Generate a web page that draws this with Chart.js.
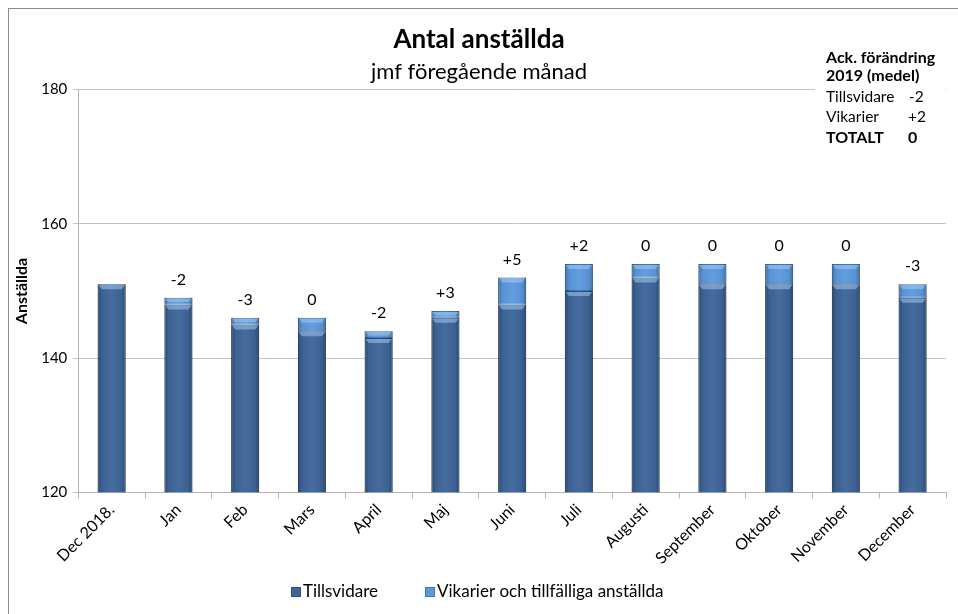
<!DOCTYPE html>
<html>
<head>
<meta charset="utf-8">
<script src="https://cdn.jsdelivr.net/npm/chart.js@4"></script>
<style>
  html, body { margin: 0; background: #fff; }
  #ruta { width: 958px; height: 614px; position: relative; }
</style>
</head>
<body>
<div id="ruta"><canvas id="diagram"></canvas></div>
<script>
var manader = ['Dec 2018.', 'Jan', 'Feb', 'Mars', 'April', 'Maj', 'Juni', 'Juli',
  'Augusti', 'September', 'Oktober', 'November', 'December']
var tillsvidare = [151, 148, 145, 144, 143, 146, 148, 150, 152, 151, 151, 151, 149]
var vikarier = [0, 1, 1, 2, 1, 1, 4, 4, 2, 3, 3, 3, 2]
var forandring = ['', '-2', '-3', '0', '-2', '+3', '+5', '+2', '0', '0', '0', '0', '-3']
var yMin = 120
var yMax = 180
var ySteg = 20

var typsnitt = 'Lato, "Open Sans", sans-serif'

// ram runt hela diagrammet
var ramPlugin = {
  id: 'ram',
  beforeDraw: function (chart) {
    var ctx = chart.ctx
    ctx.save()
    ctx.strokeStyle = '#8c8c8c'
    ctx.lineWidth = 1
    ctx.strokeRect(8.5, 8.5, chart.width + 10, chart.height + 10)
    ctx.restore()
  }
}

// lite skuggning och fasad kant på staplarna (som i Excel)
var fasPlugin = {
  id: 'fas',
  afterDatasetsDraw: function (chart) {
    var ctx = chart.ctx
    var botten = chart.chartArea.bottom
    ctx.save()
    chart.data.datasets.forEach(function (ds, d) {
      chart.getDatasetMeta(d).data.forEach(function (bar) {
        var p = bar.getProps(['x', 'y', 'base', 'width'], true)
        var bas = Math.min(p.base, botten)
        var h = bas - p.y
        if (h < 1) return
        var v = p.x - p.width / 2
        var g = ctx.createLinearGradient(v, 0, v + p.width, 0)
        g.addColorStop(0, 'rgba(0,0,0,0.28)')
        g.addColorStop(0.15, 'rgba(0,0,0,0.05)')
        g.addColorStop(0.5, 'rgba(255,255,255,0.04)')
        g.addColorStop(0.85, 'rgba(0,0,0,0.05)')
        g.addColorStop(1, 'rgba(0,0,0,0.3)')
        ctx.fillStyle = g
        ctx.fillRect(v, p.y, p.width, h)
        // ljus fas upptill
        var fh = Math.min(4, h / 2)
        ctx.fillStyle = 'rgba(160,200,245,0.55)'
        ctx.beginPath()
        ctx.moveTo(v + 1, p.y + 1)
        ctx.lineTo(v + p.width - 1, p.y + 1)
        ctx.lineTo(v + p.width - 4, p.y + 1 + fh)
        ctx.lineTo(v + 4, p.y + 1 + fh)
        ctx.closePath()
        ctx.fill()
      })
    })
    ctx.restore()
  }
}

// förändring jmf föregående månad, ovanför staplarna
var etikettPlugin = {
  id: 'etiketter',
  afterDatasetsDraw: function (chart) {
    var ctx = chart.ctx
    var meta = chart.getDatasetMeta(1)
    ctx.save()
    ctx.fillStyle = '#000'
    ctx.font = '16px ' + typsnitt
    ctx.textAlign = 'center'
    ctx.textBaseline = 'middle'
    meta.data.forEach(function (bar, i) {
      if (forandring[i] !== '') {
        ctx.fillText(forandring[i], bar.x, bar.y - 18)
      }
    })
    ctx.restore()
  }
}

// textrutan uppe till höger
var rutaPlugin = {
  id: 'ackruta',
  afterDraw: function (chart) {
    var ctx = chart.ctx
    ctx.save()
    ctx.fillStyle = '#fff'
    ctx.fillRect(815, 44, 130, 108)
    ctx.fillStyle = '#000'
    ctx.textBaseline = 'middle'
    ctx.textAlign = 'left'
    ctx.font = 'bold 16px ' + typsnitt
    ctx.fillText('Ack. förändring', 826, 58)
    ctx.fillText('2019 (medel)', 826, 76)
    ctx.font = '15.5px ' + typsnitt
    ctx.fillText('Tillsvidare', 826, 97)
    ctx.fillText('-2', 909, 97)
    ctx.fillText('Vikarier', 826, 117)
    ctx.fillText('+2', 908, 117)
    ctx.font = 'bold 16px ' + typsnitt
    ctx.fillText('TOTALT', 826, 138)
    ctx.fillText('0', 908, 138)
    ctx.restore()
  }
}

// förklaring längst ner
var forklaringPlugin = {
  id: 'forklaring',
  afterDraw: function (chart) {
    var ctx = chart.ctx
    var y = chart.height - 22
    var x = [291, 425]
    ctx.save()
    ctx.font = '17px ' + typsnitt
    ctx.textBaseline = 'middle'
    ctx.textAlign = 'left'
    chart.data.datasets.forEach(function (ds, i) {
      ctx.fillStyle = ds.backgroundColor
      ctx.fillRect(x[i], y - 5, 10, 10)
      ctx.strokeStyle = ds.borderColor
      ctx.lineWidth = 1
      ctx.strokeRect(x[i] + 0.5, y - 4.5, 9, 9)
      ctx.fillStyle = '#000'
      ctx.fillText(ds.label, x[i] + 12, y)
    })
    ctx.restore()
  }
}

var ctx = document.getElementById('diagram').getContext('2d')
var config = {
  type: 'bar',
  data: {
    labels: manader,
    datasets: [
      {
        label: 'Tillsvidare',
        data: tillsvidare,
        backgroundColor: '#3d6699',
        borderColor: '#2c4d78',
        borderWidth: 1,
        borderSkipped: false
      },
      {
        label: 'Vikarier och tillfälliga anställda',
        data: vikarier,
        backgroundColor: '#5b9ade',
        borderColor: '#3f74b0',
        borderWidth: 1,
        borderSkipped: false
      }
    ]
  },
  options: {
    responsive: true,
    maintainAspectRatio: false,
    animation: false,
    layout: { padding: { left: 12, right: 12, top: 10, bottom: 44 } },
    datasets: { bar: { categoryPercentage: 1, barPercentage: 0.42 } },
    scales: {
      x: {
        stacked: true,
        grid: { drawOnChartArea: false, drawTicks: true, tickLength: 6, color: '#b4b4b4', offset: true },
        border: { color: '#b4b4b4' },
        ticks: {
          color: '#000',
          font: { family: typsnitt, size: 16 },
          minRotation: 45,
          maxRotation: 45,
          padding: 2
        }
      },
      y: {
        stacked: true,
        min: yMin,
        max: yMax,
        ticks: {
          stepSize: ySteg,
          color: '#000',
          font: { family: typsnitt, size: 15 },
          padding: 6
        },
        grid: { color: '#c3c3c3', tickLength: 5 },
        border: { color: '#b4b4b4' },
        title: {
          display: true,
          text: 'Anställda',
          color: '#000',
          font: { family: typsnitt, size: 16, weight: 'bold' },
          padding: { top: 0, bottom: 4 }
        }
      }
    },
    plugins: {
      title: {
        display: true,
        text: 'Antal anställda',
        color: '#000',
        font: { family: typsnitt, size: 26, weight: 'bold' },
        padding: { top: 14, bottom: 4 }
      },
      subtitle: {
        display: true,
        text: 'jmf föregående månad',
        color: '#000',
        font: { family: typsnitt, size: 22 },
        padding: { top: 0, bottom: 4 }
      },
      legend: { display: false },
      tooltip: { enabled: false }
    }
  },
  plugins: [ramPlugin, fasPlugin, etikettPlugin, rutaPlugin, forklaringPlugin]
}
var diagram = new Chart(ctx, config)
</script>
</body>
</html>
